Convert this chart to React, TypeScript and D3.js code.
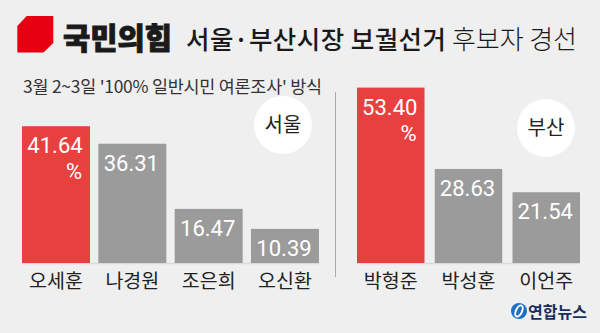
import React from "react";
import * as d3 from "d3";

const seoulNames = ["오세훈", "나경원", "조은희", "오신환"];
const seoulValues = [41.64, 36.31, 16.47, 10.39];
const busanNames = ["박형준", "박성훈", "이언주"];
const busanValues = [53.4, 28.63, 21.54];
const titleParts = ["국민의힘", "서울·부산시장 보궐선거", "후보자 경선"];
const subtitle = "3월 2~3일 '100% 일반시민 여론조사' 방식";
const regions = ["서울", "부산"];

const W = 600;
const H = 333;
const BASE = 263;
const RED = "#e8403f";
const GRAY = "#9b9b9b";
const KR = "'Noto Sans CJK KR', 'Noto Sans', sans-serif";
const NUM = "Roboto, 'Noto Sans', sans-serif";

const y = d3.scaleLinear().domain([0, 60]).range([BASE, BASE - 60 * 3.285]);

function Panel({ names, values, range, pad, region, cx, cy }: any) {
  const x = d3.scaleBand<string>().domain(names).range(range).paddingInner(pad).paddingOuter(0);
  const maxV = d3.max(values as number[]) as number;
  return (
    <g>
      <line x1={range[0]} x2={range[1]} y1={BASE + 0.5} y2={BASE + 0.5} stroke="#d9d9d9" strokeWidth={1.5} />
      {names.map((n: string, i: number) => {
        const v = values[i];
        const bx = x(n)!;
        const bw = x.bandwidth();
        const top = y(v);
        const c = bx + bw / 2;
        const hi = v === maxV;
        return (
          <g key={n}>
            <rect x={bx} y={top} width={bw} height={BASE - top} fill={hi ? RED : GRAY} />
            <text x={c - 1} y={top + 27} textAnchor="middle" fill="#fff" fontFamily={NUM} fontSize={22}>
              {v.toFixed(2)}
            </text>
            {hi && (
              <text x={c + 26} y={top + 53} textAnchor="end" fill="#fff" fontFamily={NUM} fontSize={22}>
                %
              </text>
            )}
            <text x={c} y={288} textAnchor="middle" fill="#222" fontFamily={KR} fontSize={19.5}>
              {n}
            </text>
          </g>
        );
      })}
      <circle cx={cx} cy={cy} r={29} fill="#fff" />
      <text x={cx} y={cy + 7} textAnchor="middle" fill="#222" fontFamily={KR} fontSize={20}>
        {region}
      </text>
    </g>
  );
}

export default function App() {
  return (
    <svg width={W} height={H} style={{ display: "block", position: "absolute", left: 0, top: 0 }}>
      <rect width={W} height={H} fill="#efefef" />
      <polygon points="17.3,26 26.7,16 53.3,16 53.3,43 43.5,52.5 17.3,52.5" fill="#e60012" />
      <text x={63} y={49} fontFamily={KR} fill="#1a1a1a" fontSize={30} fontWeight={900} stroke="#1a1a1a" strokeWidth={0.9} textLength={109} lengthAdjust="spacingAndGlyphs">
        {titleParts[0]}
      </text>
      <text x={186} y={49} fontFamily={KR} fill="#1a1a1a" fontSize={25.5} fontWeight={500} textLength={260} lengthAdjust="spacing">
        {titleParts[1]}
      </text>
      <text x={452} y={49} fontFamily={KR} fill="#1a1a1a" fontSize={26} fontWeight={300} textLength={125} lengthAdjust="spacing">
        {titleParts[2]}
      </text>
      <text x={23} y={93} fontFamily={KR} fontSize={17.4} fill="#333" textLength={299} lengthAdjust="spacing">{subtitle}</text>
      <line x1={335.5} x2={335.5} y1={92} y2={277} stroke="#aaa" strokeWidth={1} />
      <Panel names={seoulNames} values={seoulValues} range={[22, 319]} pad={0.109} region={regions[0]} cx={283} cy={125} />
      <Panel names={busanNames} values={busanValues} range={[357, 580]} pad={0.132} region={regions[1]} cx={546} cy={128} />
      <g>
        <circle cx={519} cy={311} r={8} fill="#1d6fc4" />
        <ellipse cx={519} cy={311} rx={3} ry={6} fill="none" stroke="#fff" strokeWidth={2} transform="rotate(25 519 311)" />
        <text x={528} y={318} fontFamily={KR} fontSize={16} fontWeight={700} fill="#1b2d5c">연합뉴스</text>
      </g>
    </svg>
  );
}
